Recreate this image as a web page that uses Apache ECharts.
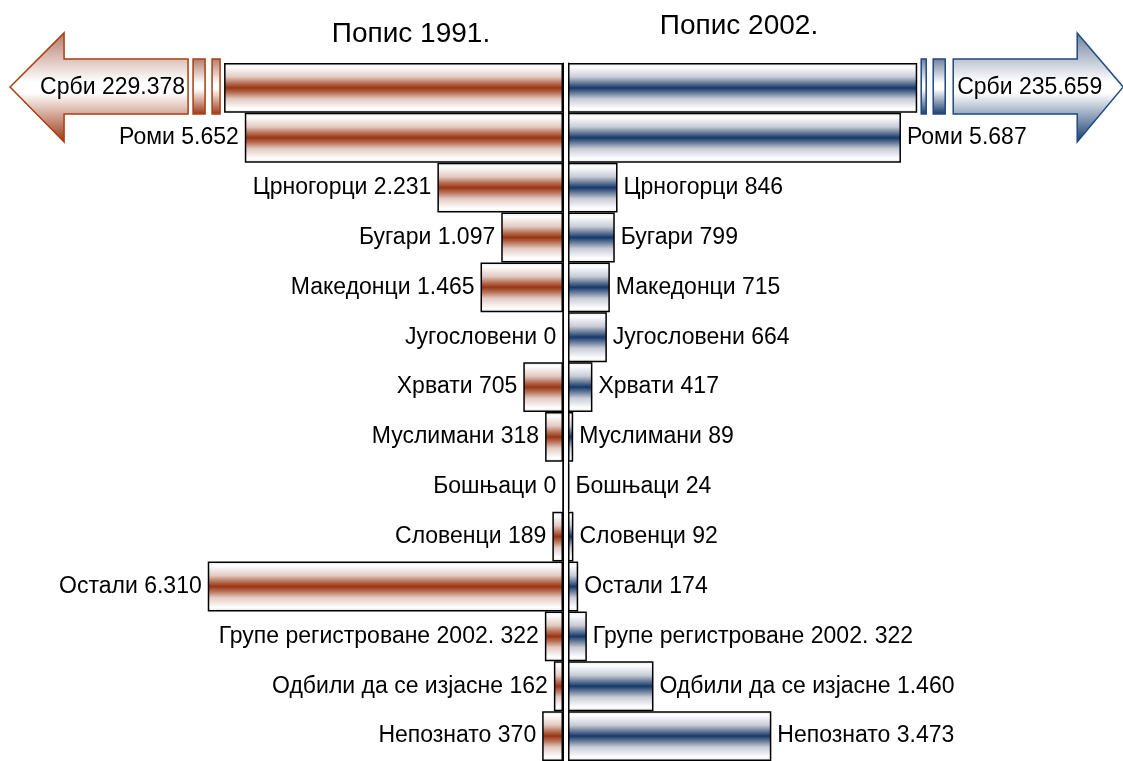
<!DOCTYPE html>
<html>
<head>
<meta charset="utf-8">
<script src="https://cdn.jsdelivr.net/npm/echarts@6/dist/echarts.min.js"></script>
<style>
html, body { margin: 0; padding: 0; background: #fff; }
#chart { width: 1123px; height: 761px; }
</style>
</head>
<body>
<div id="chart"></div>
<script>
// podaci sa slike
var categories = ["Срби", "Роми", "Црногорци", "Бугари", "Македонци", "Југословени", "Хрвати",
	"Муслимани", "Бошњаци", "Словенци", "Остали", "Групе регистроване 2002.", "Одбили да се изјасне", "Непознато"];
var values1991 = [229378, 5652, 2231, 1097, 1465, 0, 705, 318, 0, 189, 6310, 322, 162, 370];
var values2002 = [235659, 5687, 846, 799, 715, 664, 417, 89, 24, 92, 174, 322, 1460, 3473];
var titles = ["Попис 1991.", "Попис 2002."];

// Srbi su preveliki, njihov stub se sece na ovoj vrednosti
var cut1991 = 6020;
var cut2002 = 5965;

var FONT = "Liberation Sans, Arial, sans-serif";
var red = "#9a3512";
var blue = "#14396b";

function fmt(v) {
	return String(v).replace(/\B(?=(\d{3})+(?!\d))/g, ".");
}

function tube(c, light, mid) {
	return new echarts.graphic.LinearGradient(0, 0, 0, 1, [
		{ offset: 0, color: "#e4e4e4" },
		{ offset: 0.08, color: "#ffffff" },
		{ offset: 0.28, color: light },
		{ offset: 0.4, color: mid },
		{ offset: 0.5, color: c },
		{ offset: 0.6, color: mid },
		{ offset: 0.72, color: light },
		{ offset: 0.92, color: "#ffffff" },
		{ offset: 1, color: "#e4e4e4" }
	]);
}

function arrowFill(top, bottom) {
	return new echarts.graphic.LinearGradient(0, 0, 0, 1, [
		{ offset: 0, color: top },
		{ offset: 0.45, color: "#ffffff" },
		{ offset: 0.55, color: "#ffffff" },
		{ offset: 1, color: bottom }
	]);
}

// strelica sa natpisom za Srbe, dir = -1 levo, 1 desno
function arrowItem(dir, stroke, fillTop, fillBottom, values) {
	return function (params, api) {
		var p = api.coord([api.value(0), api.value(1)]);
		var x0 = p[0], cy = p[1] - 1;
		var d = dir;
		var pts = [
			[x0 + d * 206, cy],
			[x0 + d * 160, cy - 54],
			[x0 + d * 160, cy - 28],
			[x0 + d * 36, cy - 28],
			[x0 + d * 36, cy + 27],
			[x0 + d * 160, cy + 27],
			[x0 + d * 160, cy + 55]
		];
		if (d < 0) pts[0][0] = x0 - 214;
		var r1 = d < 0 ? [x0 - 12, x0 - 4] : [x0 + 4, x0 + 9];
		var r2 = d < 0 ? [x0 - 31, x0 - 19] : [x0 + 16, x0 + 28];
		return {
			type: "group",
			children: [
				{ type: "rect", shape: { x: r1[0], y: cy - 28, width: r1[1] - r1[0], height: 55 },
					style: { fill: arrowFill(fillTop, fillBottom), stroke: stroke, lineWidth: 1.5 } },
				{ type: "rect", shape: { x: r2[0], y: cy - 28, width: r2[1] - r2[0], height: 55 },
					style: { fill: arrowFill(fillTop, fillBottom), stroke: stroke, lineWidth: 1.5 } },
				{ type: "polygon", shape: { points: pts },
					style: { fill: arrowFill(fillTop, fillBottom), stroke: stroke, lineWidth: 1.5 } },
				{ type: "text", style: {
					text: categories[0] + " " + fmt(values[0]),
					x: d < 0 ? x0 - 39 : x0 + 40, y: cy + 1,
					align: d < 0 ? "right" : "left", verticalAlign: "middle",
					font: "23px " + FONT, fill: "#000" } }
			]
		};
	};
}

var myChart = echarts.init(document.getElementById("chart"));
var options = {
	backgroundColor: "#fff",
	animation: false,
	grid: [
		{ left: 0, right: 560, top: 63, height: 698, containLabel: false },
		{ left: 568, right: 0, top: 63, height: 698, containLabel: false }
	],
	xAxis: [
		{ gridIndex: 0, type: "value", inverse: true, min: 0, max: 10000, show: false },
		{ gridIndex: 1, type: "value", min: 0, max: 9480, show: false }
	],
	yAxis: [
		{ gridIndex: 0, type: "category", data: categories, inverse: true, position: "right",
			axisLine: { show: true, onZero: false, lineStyle: { color: "#000", width: 1 } },
			axisTick: { show: false }, axisLabel: { show: false }, splitLine: { show: false } },
		{ gridIndex: 1, type: "category", data: categories, inverse: true, position: "left",
			axisLine: { show: true, onZero: false, lineStyle: { color: "#000", width: 1 } },
			axisTick: { show: false }, axisLabel: { show: false }, splitLine: { show: false } }
	],
	graphic: [
		{ type: "text", x: 411, y: 34, style: { text: titles[0], align: "center", verticalAlign: "middle",
			font: "28px " + FONT, fill: "#000" } },
		{ type: "text", x: 739, y: 26, style: { text: titles[1], align: "center", verticalAlign: "middle",
			font: "28px " + FONT, fill: "#000" } }
	],
	series: [
		{
			name: titles[0],
			type: "bar",
			xAxisIndex: 0, yAxisIndex: 0,
			barWidth: "100%",
			// samo Srbi se seku
			data: values1991.map(function (v, i) { return i === 0 ? Math.min(v, cut1991) : v; }),
			itemStyle: { color: tube(red, "#e2cac2", "#b8735a"), borderColor: "#000", borderWidth: 1.5 },
			label: {
				show: true, position: "left", distance: 6, color: "#000",
				fontFamily: FONT, fontSize: 23,
				formatter: function (p) {
					if (p.dataIndex === 0) return "";
					return categories[p.dataIndex] + " " + fmt(values1991[p.dataIndex]);
				}
			}
		},
		{
			name: titles[1],
			type: "bar",
			xAxisIndex: 1, yAxisIndex: 1,
			barWidth: "100%",
			data: values2002.map(function (v, i) { return i === 0 ? Math.min(v, cut2002) : v; }),
			itemStyle: { color: tube(blue, "#c8ccd6", "#687a98"), borderColor: "#000", borderWidth: 1.5 },
			label: {
				show: true, position: "right", distance: 6, color: "#000",
				fontFamily: FONT, fontSize: 23,
				formatter: function (p) {
					if (p.dataIndex === 0) return "";
					return categories[p.dataIndex] + " " + fmt(values2002[p.dataIndex]);
				}
			}
		},
		{
			type: "custom", xAxisIndex: 0, yAxisIndex: 0, clip: false,
			data: [[cut1991, 0]],
			renderItem: arrowItem(-1, "#a8400f", "#b27a6a", "#9a3512", values1991)
		},
		{
			type: "custom", xAxisIndex: 1, yAxisIndex: 1, clip: false,
			data: [[cut2002, 0]],
			renderItem: arrowItem(1, "#1d4a80", "#6d7f9c", "#14396b", values2002)
		}
	]
};
myChart.setOption(options);
</script>
</body>
</html>
